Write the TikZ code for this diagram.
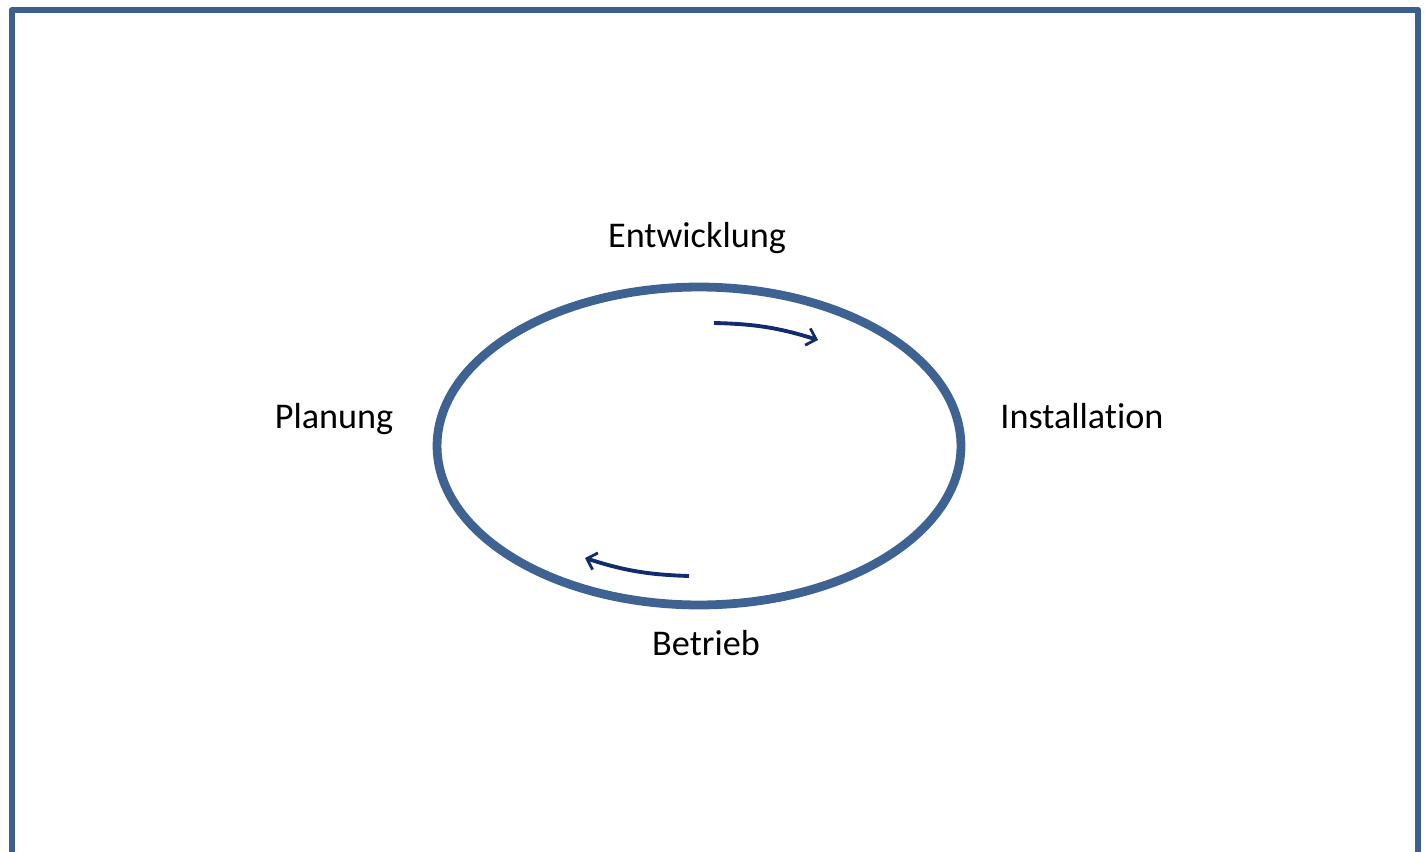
\documentclass[tikz,border=0pt]{standalone}
\usepackage{fontspec}
\setmainfont{Carlito}[Ligatures=NoCommon]
\usetikzlibrary{arrows.meta,shapes.geometric}
\definecolor{framecol}{RGB}{60,96,142}
\definecolor{ringcol}{RGB}{62,98,145}
\definecolor{arrcol}{RGB}{16,44,108}
\begin{document}
\begin{tikzpicture}[x=0.02cm,y=-0.02cm,
  lab/.style={font=\fontsize{20.6}{24}\selectfont,inner sep=0pt},
  flow/.style={color=arrcol,line width=2.2pt,-{Straight Barb[length=5pt,width=10pt,line width=1.6pt]}}]
\useasboundingbox (0,0) rectangle (1425,851);
\draw[framecol,line width=3.6pt,line join=round] (12,900) -- (12,10) -- (1418,10) -- (1418,900);
\node[ellipse,draw=ringcol,line width=5pt,minimum width=10.48cm,minimum height=6.36cm,inner sep=0pt] (cycle) at (699,446) {};
\node[lab] (plan) at (334,419) {Planung};
\node[lab] (entw) at (697,238) {Entwicklung};
\node[lab] (inst) at (1082,416) {Installation};
\node[lab] (betr) at (706,643) {Betrieb};
\coordinate (a1) at (714,323);
\coordinate (a2) at (818,340);
\coordinate (b1) at (689,576);
\coordinate (b2) at (585,558);
\draw[flow] (a1) to[bend left=8] (a2);
\draw[flow] (b1) to[bend left=8] (b2);
\end{tikzpicture}
\end{document}
